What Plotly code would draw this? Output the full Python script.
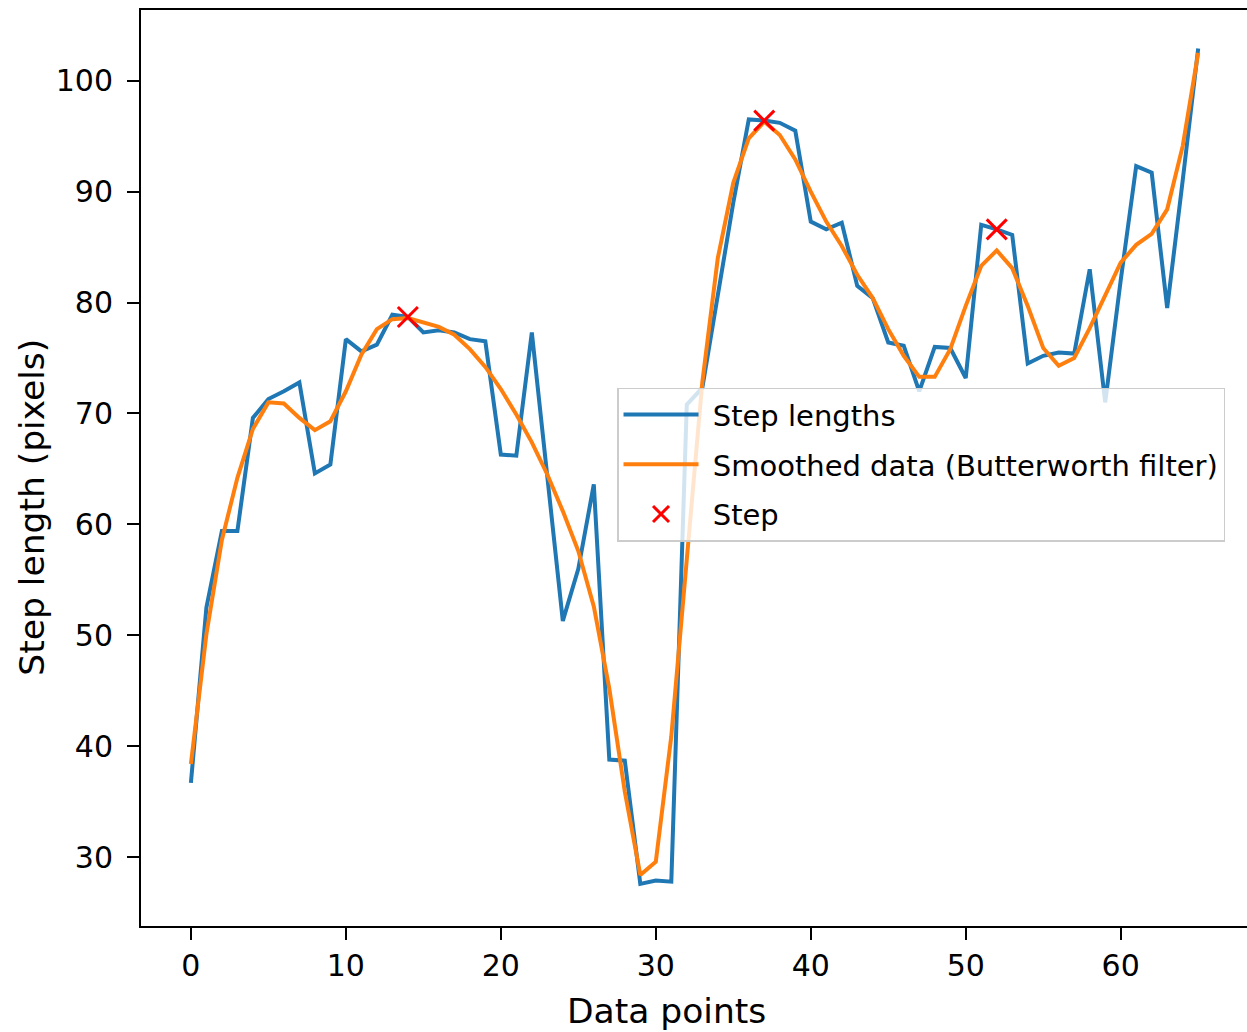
import plotly.graph_objects as go

step_lengths = [36.7, 52.5, 59.4, 59.4, 69.6, 71.3, 72.0, 72.8, 64.6, 65.4,
                76.7, 75.6, 76.2, 78.9, 78.7, 77.3, 77.5, 77.3, 76.7, 76.5,
                66.3, 66.2, 77.3, 64.3, 51.3, 56.0, 63.6, 38.8, 38.7, 27.6,
                27.9, 27.8, 70.8, 72.3, 80.5, 89.0, 96.5, 96.4, 96.2, 95.5,
                87.3, 86.6, 87.2, 81.5, 80.4, 76.4, 76.1, 72.0, 76.0, 75.9,
                73.2, 87.0, 86.6, 86.1, 74.5, 75.2, 75.5, 75.4, 83.0, 71.0,
                82.0, 92.3, 91.7, 79.5, 91.0, 102.9]

smoothed = [38.4, 50.1, 58.6, 64.2, 68.6, 71.0, 70.9, 69.6, 68.5, 69.3,
            72.0, 75.3, 77.6, 78.5, 78.6, 78.2, 77.8, 77.1, 75.8, 74.2,
            72.2, 69.9, 67.4, 64.5, 61.2, 57.6, 52.6, 45.2, 35.9, 28.4,
            29.6, 40.9, 56.6, 72.8, 84.0, 90.8, 94.8, 96.3, 95.1, 92.9,
            90.0, 87.3, 85.1, 82.5, 80.4, 77.6, 75.2, 73.3, 73.3, 75.8,
            79.7, 83.3, 84.7, 83.1, 79.7, 75.9, 74.3, 75.0, 77.7, 80.7,
            83.6, 85.2, 86.2, 88.4, 94.1, 102.5]

step_indices = [14, 37, 52]

x_points = list(range(len(step_lengths)))
step_values = [step_lengths[i] for i in step_indices]

x_ticks = [0, 10, 20, 30, 40, 50, 60]
y_ticks = [30, 40, 50, 60, 70, 80, 90, 100]

x_title = "Data points"
y_title = "Step length (pixels)"
legend_names = ["Step lengths", "Smoothed data (Butterworth filter)", "Step"]

FONT = "DejaVu Sans"
NB = "\u00a0"

fig = go.Figure()
fig.add_trace(go.Scatter(x=x_points, y=step_lengths, mode="lines",
                         name=NB + legend_names[0], legendgroup="a",
                         line=dict(color="#1f77b4", width=4)))
fig.add_trace(go.Scatter(x=x_points, y=smoothed, mode="lines",
                         name=NB + legend_names[1], legendgroup="b",
                         line=dict(color="#ff7f0e", width=4)))
fig.add_trace(go.Scatter(x=step_indices, y=step_values, mode="markers",
                         name=NB + legend_names[2], legendgroup="c",
                         marker=dict(symbol="x-thin", size=20, color="red",
                                     line=dict(color="red", width=3))))

fig.update_layout(
    width=1247, height=1032,
    margin=dict(l=141, r=0, t=10, b=106),
    paper_bgcolor="white", plot_bgcolor="white",
    font=dict(family=FONT, size=29, color="black"),
    showlegend=True,
    legend=dict(x=0.4304, y=0.5876, xanchor="left", yanchor="top",
                bgcolor="rgba(255,255,255,0.8)", bordercolor="#cccccc",
                borderwidth=1.5, font=dict(family=FONT, size=29, color="black"),
                traceorder="grouped", tracegroupgap=9, itemwidth=75),
    annotations=[
        dict(text=x_title, xref="paper", yref="paper", x=0.4747, y=-0.093,
             xanchor="center", yanchor="middle", showarrow=False,
             font=dict(family=FONT, size=34.5, color="black")),
        dict(text=y_title, xref="paper", yref="paper", x=-0.0986, y=0.4577,
             xanchor="center", yanchor="middle", showarrow=False, textangle=-90,
             font=dict(family=FONT, size=34.5, color="black")),
    ],
)
fig.update_xaxes(range=[-3.22, 68.15], tickvals=x_ticks, ticktext=[str(v) for v in x_ticks],
                 showgrid=False, zeroline=False, showline=True, mirror=True,
                 linecolor="black", linewidth=2, ticks="outside", ticklen=12,
                 tickwidth=1.5, tickcolor="black", ticklabelstandoff=0,
                 tickfont=dict(family=FONT, size=30, color="black"))
fig.update_yaxes(range=[23.8, 106.37], tickvals=y_ticks, ticktext=[str(v) for v in y_ticks],
                 showgrid=False, zeroline=False, showline=True, mirror=False,
                 linecolor="black", linewidth=2, ticks="outside", ticklen=12,
                 tickwidth=1.5, tickcolor="black", ticklabelstandoff=8,
                 tickfont=dict(family=FONT, size=30, color="black"))

fig.write_html("out.html")
